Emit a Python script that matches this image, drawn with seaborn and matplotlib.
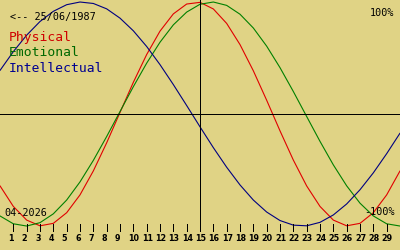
import matplotlib
matplotlib.use("Agg")
import matplotlib.pyplot as plt
import seaborn as sns
import pandas as pd

# ---- data ----
days = list(range(0, 31))
tick_days = list(range(1, 30))
physical = [-0.641, -0.825, -0.947, -0.998, -0.976, -0.881, -0.722, -0.508, -0.257, 0.014,
            0.283, 0.531, 0.740, 0.894, 0.982, 0.997, 0.938, 0.809, 0.620, 0.386,
            0.123, -0.150, -0.411, -0.642, -0.825, -0.947, -0.998, -0.976, -0.881, -0.722,
            -0.508]
emotional = [-0.910, -0.980, -1.000, -0.970, -0.891, -0.768, -0.606, -0.414, -0.201, 0.022,
             0.244, 0.454, 0.641, 0.796, 0.910, 0.980, 1.000, 0.970, 0.891, 0.768,
             0.606, 0.414, 0.201, -0.022, -0.244, -0.454, -0.641, -0.796, -0.910, -0.980,
             -1.000]
intellectual = [0.389, 0.557, 0.704, 0.826, 0.917, 0.976, 1.000, 0.987, 0.939, 0.856,
                0.743, 0.603, 0.441, 0.263, 0.076, -0.114, -0.300, -0.475, -0.633, -0.768,
                -0.875, -0.951, -0.992, -0.998, -0.967, -0.901, -0.803, -0.676, -0.525, -0.354,
                -0.171]
series_names = ["Physical", "Emotional", "Intellectual"]
today = 15
birth_label = "<-- 25/06/1987"
month_label = "04-2026"
top_label = "100%"
bottom_label = "-100%"

BG = "#e0d385"
colors = {"Physical": "#e00000", "Emotional": "#008000", "Intellectual": "#000080"}
text_colors = {"Physical": "#d00000", "Emotional": "#006800", "Intellectual": "#000090"}

df = pd.DataFrame({
    "day": days * 3,
    "value": physical + emotional + intellectual,
    "series": [s for s in series_names for _ in days],
})

sns.set_theme(style="white")
plt.rcParams["font.family"] = ["DejaVu Sans Mono", "DejaVu Sans"]

LW = 0.72  # one pixel at 100 dpi

fig = plt.figure(figsize=(4, 2.5), dpi=100, facecolor=BG)
ax = fig.add_axes([0, 0, 1, 1], facecolor=BG)

sns.lineplot(data=df, x="day", y="value", hue="series", palette=colors,
             linewidth=0.8, ax=ax, legend=False)

YMIN, YMAX = -1.214, 1.018
ax.set_xlim(0, 30)
ax.set_ylim(YMIN, YMAX)

# reference lines
ax.axhline(0, color="black", linewidth=LW, antialiased=False)
tick_top, tick_bot = -0.982, -1.045
ax.axvline(today, ymin=(tick_bot - YMIN) / (YMAX - YMIN), ymax=1,
           color="black", linewidth=LW, antialiased=False)

# tick marks
ax.vlines(tick_days, tick_bot, tick_top, color="black", linewidth=LW,
          antialiased=False, zorder=5)

for s in ax.spines.values():
    s.set_visible(False)
ax.set_xticks([])
ax.set_yticks([])
ax.set_xlabel("")
ax.set_ylabel("")

for d in tick_days:
    ax.text(d - 0.37, -1.110, str(d), fontsize=5.8, fontweight="bold",
            family="DejaVu Sans", ha="left", va="center", color="black")

def px(x, y):
    return x / 400, 1 - y / 250

ax.text(*px(10, 17), birth_label, transform=ax.transAxes, fontsize=7.3,
        ha="left", va="center", color="black")
for name, y in zip(series_names, [38, 53, 68]):
    ax.text(*px(9, y), name, transform=ax.transAxes, fontsize=9.4,
            ha="left", va="center", color=text_colors[name])
ax.text(*px(394, 12.5), top_label, transform=ax.transAxes, fontsize=7.3,
        ha="right", va="center", color="black")
ax.text(*px(4, 212.5), month_label, transform=ax.transAxes, fontsize=7.3,
        ha="left", va="center", color="black")
ax.text(*px(395, 212), bottom_label, transform=ax.transAxes, fontsize=7.3,
        ha="right", va="center", color="black")

fig.savefig("out.png", dpi=100, facecolor=BG)
